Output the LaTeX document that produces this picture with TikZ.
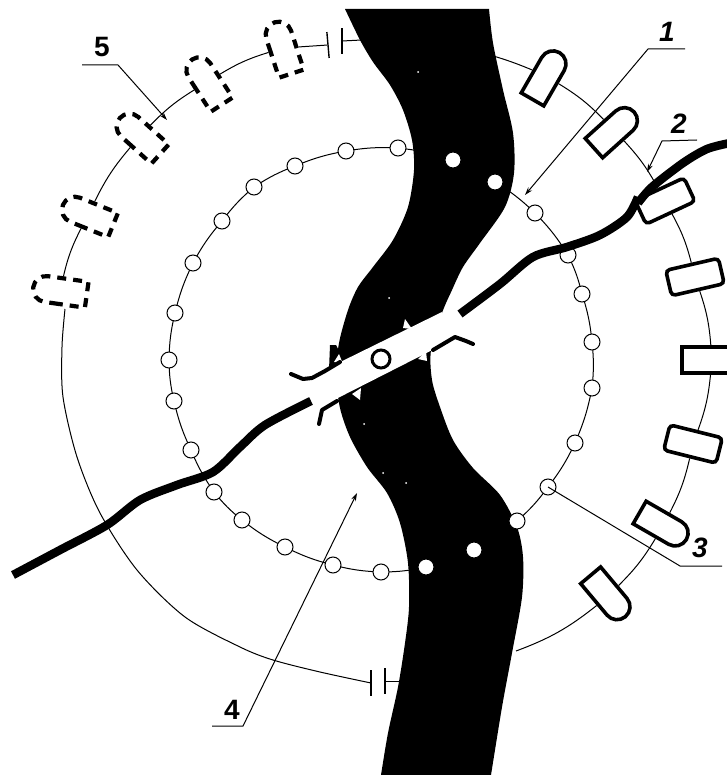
\documentclass[tikz,border=0pt]{standalone}
\usepackage{fontspec}
\setmainfont{Liberation Sans}
\usepackage{xcolor}
\usepackage{tikz}
\usetikzlibrary{positioning, arrows.meta, shapes.misc}

\begin{document}
\begin{tikzpicture}[
    x=1pt, y=-1pt,
    post/.style={draw, fill=white, rounded rectangle, rounded rectangle west arc=none, line width=3.6pt, minimum width=54, minimum height=26, inner sep=0pt},
    postsq/.style={draw, fill=white, rectangle, rounded corners=4pt, line width=3.6pt, minimum width=54, minimum height=26, inner sep=0pt},
    ghost/.style={post, line width=4.2pt, dash pattern=on 9pt off 7pt},
    pile/.style={draw, fill=white, circle, line width=1pt, minimum size=16, inner sep=0pt},
    plate/.style={fill=black, rectangle, minimum width=1.4pt, minimum height=26, inner sep=0pt},
    ring/.style={line width=1pt},
    road/.style={line width=8.5pt},
    wing/.style={line width=4pt, line cap=round, line join=round},
    leader/.style={line width=1pt},
    arrow/.style={leader, -{Stealth[length=8pt, width=5pt]}},
    numlabel/.style={font=\fontsize{28}{28}\selectfont\bfseries\itshape, inner sep=0pt},
    numplain/.style={font=\fontsize{28}{28}\selectfont\bfseries, inner sep=0pt}
]
\useasboundingbox (0,0) rectangle (726,775);

% River
\fill plot[smooth] coordinates {(345,9) (360,40) (373,62) (390,85) (403,110) (412,140) (414,170) (408,207) (393,240) (373,267) (358,287) (348,310) (339,343) (336,375) (340,408) (350,437) (367,467) (387,493) (400,523) (408,563) (409,607) (405,643) (398,687) (388,733) (381,775)}
  -- plot[smooth] coordinates {(491,775) (502,707) (512,653) (522,597) (523,557) (517,527) (500,495) (473,468) (453,440) (440,407) (432,380) (431,350) (442,313) (452,290) (463,267) (480,243) (505,207) (514,173) (513,133) (503,90) (493,43) (489,9)}
  -- cycle;
\fill (330,345) -- (336,345) -- (344,360) -- (329,370) -- cycle;

% Outer line of posts
\foreach \nm/\px/\py/\ang in {1/546/76/60, 2/614/130/42, 7/663/526/-30, 8/608/596/-50}
  \node[post, rotate=\ang] (post\nm) at (\px,\py) {};
\foreach \nm/\px/\py/\ang in {3/665/201/25, 4/695/277/13, 6/693/444/-14}
  \node[postsq, rotate=\ang] (post\nm) at (\px,\py) {};
\node[postsq, rounded corners=0pt, minimum width=60] (post5) at (712,360) {};
\foreach \nm/\px/\py/\ang in {a/283/48/108, b/207/82/123, c/140/136/138, d/88/215/158, e/60/291/172}
  \node[ghost, rotate=\ang] (post\nm) at (\px,\py) {};

\node[plate, rotate=5] (capTopA) at (328,45) {};
\node[plate] (capTopB) at (342,41) {};
\node[plate] (capBotA) at (371,683) {};
\node[plate] (capBotB) at (385,681) {};
\coordinate (riverTop) at (362,40);
\coordinate (riverBot) at (402,681);
\coordinate (riverNE) at (490,55);
\coordinate (riverSE) at (516,651);
\coordinate (ringStart) at (65,309);

\draw[ring] (capTopB) -- (riverTop);
\draw[ring] (capBotB) -- (riverBot);
\draw[ring] (capTopA) -- (posta);
\foreach \from/\to in {a/b, b/c, c/d, d/e}
  \draw[ring] (post\from) to[bend right=7] (post\to);
\draw[ring] plot[smooth] coordinates {(ringStart) (62,347) (63,397) (77,457) (100,513) (137,570) (185,617) (240,647) (273,660) (320,672) (capBotA)};
\draw[ring] (riverNE) to[bend left=3] (post1);
\foreach \from/\to in {1/2, 2/3, 3/4, 4/5, 5/6, 6/7, 7/8}
  \draw[ring] (post\from) to[bend left=7] (post\to);
\draw[ring] (post8) to[bend left=9] (riverSE);

% Inner line of piles
\foreach \nm/\px/\py in {1/398/148, 2/346/151, 3/295/166, 4/254/187, 5/222/221, 6/193/263, 7/175/313, 8/169/360, 9/174/401, 10/191/450, 11/214/492, 12/242/520, 13/285/547, 14/333/565, 15/381/572, 16/426/567, 17/474/550, 18/517/521, 19/548/487, 20/575/443, 21/592/388, 22/592/342, 23/582/294, 24/568/255, 25/535/213, 26/495/182, 27/453/160}
  \coordinate (pilepos\nm) at (\px,\py);
\foreach \nm [remember=\nm as \prev (initially 27)] in {1,...,27}
  \draw[ring] (pilepos\prev) to[bend right=6] (pilepos\nm);
\foreach \nm in {1,...,27}
  \node[pile] (pile\nm) at (pilepos\nm) {};

% Road and bridge
\draw[road] plot[smooth] coordinates {(13,575) (60,550) (107,525) (140,500) (177,485) (213,472) (240,447) (265,425) (311,401)};
\draw[road] plot[smooth] coordinates {(460,314) (500,284) (533,257) (567,247) (600,235) (627,217) (638,197)};
\draw[road] plot[smooth] coordinates {(638,203) (652,187) (683,163) (707,149) (730,143)};
\fill[white] (322,371) -- (442,312) -- (452,340) -- (330,402) -- cycle;
\foreach \px/\py/\tx/\ty/\ux/\uy in {403/328/405/319/412/329, 334/362/343/364/339/354, 418/359/427/361/426/351, 352/394/361/388/360/400}
  \fill[white] (\px,\py) -- (\tx,\ty) -- (\ux,\uy) -- cycle;
\foreach \px/\py in {418/72, 389/298, 364/424, 383/473, 406/483}
  \fill[white] (\px,\py) circle (1pt);
\draw[wing] (291,374) -- (303,379) -- (312,378) -- (325,371) -- (340,362);
\draw[wing] (473,344) -- (466,341) -- (455,337) -- (433,350);
\draw[wing] (319,424) -- (322,410) -- (337,401);
\node[draw, fill=white, circle, line width=3pt, minimum size=18, inner sep=0pt] (pier) at (381,359) {};

% Labels
\node[numlabel] (label1) at (667,32) {1};
\coordinate (lead1a) at (685,49);
\coordinate (lead1b) at (648,49);
\coordinate (tip1) at (525,195);
\draw[arrow] (lead1a) -- (lead1b) -- (tip1);
\node[numlabel] (label2) at (679,124) {2};
\coordinate (lead2a) at (697,140);
\coordinate (lead2b) at (662,141);
\coordinate (tip2) at (647,172);
\draw[arrow] (lead2a) -- (lead2b) -- (tip2);
\node[numlabel] (label3) at (700,548) {3};
\coordinate (lead3a) at (722,566);
\coordinate (lead3b) at (680,566);
\draw[leader] (lead3a) -- (lead3b) -- (pile19.center);
\node[numplain] (label4) at (232,710) {4};
\coordinate (lead4a) at (212,726);
\coordinate (lead4b) at (243,726);
\coordinate (tip4) at (357,493);
\draw[arrow] (lead4a) -- (lead4b) -- (tip4);
\node[numplain] (label5) at (102,47) {5};
\coordinate (lead5a) at (82,65);
\coordinate (lead5b) at (118,65);
\coordinate (tip5) at (167,120);
\draw[arrow] (lead5a) -- (lead5b) -- (tip5);

\end{tikzpicture}
\end{document}
